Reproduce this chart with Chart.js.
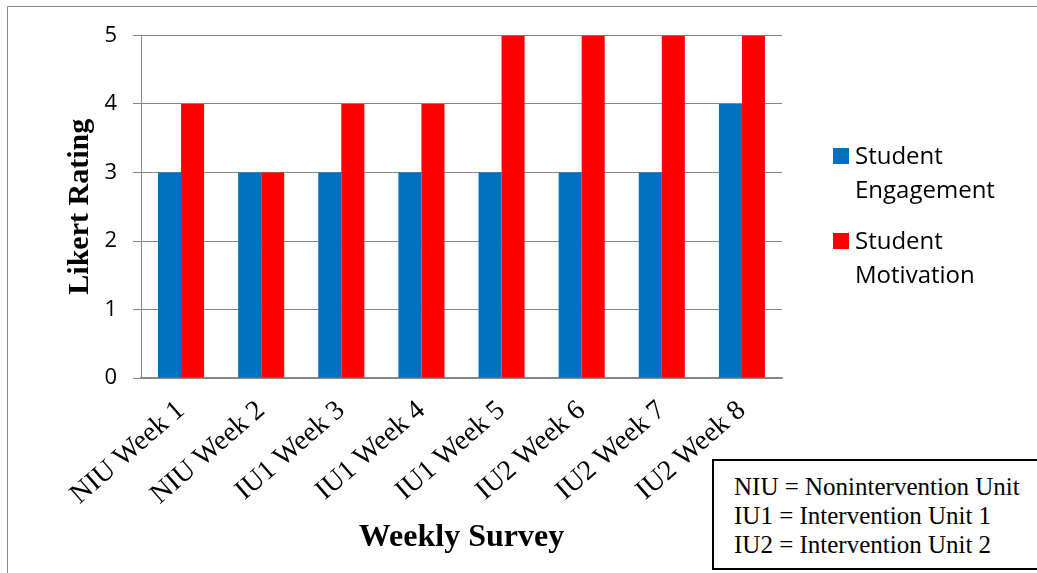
<!DOCTYPE html>
<html>
<head>
<meta charset="utf-8">
<script src="https://cdn.jsdelivr.net/npm/chart.js@4.4.1/dist/chart.umd.min.js"></script>
<style>
	body { margin: 0; background: #fff; }
	.wrap { position: relative; width: 1037px; height: 573px; overflow: hidden; }
	.frame { position: absolute; left: 7px; top: 6px; width: 1100px; height: 700px; border-left: 1px solid #8c8c8c; border-top: 1px solid #8c8c8c; }
	canvas { position: absolute; left: 0; top: 0; }
	.notes {
		position: absolute; left: 712px; top: 459px; width: 340px; height: 111px;
		border: 2px solid #000; background: #fff;
		font-family: 'Liberation Serif', 'Times New Roman', serif; font-size: 25px; line-height: 29px;
		padding: 11px 0 0 20px; box-sizing: border-box; color: #000;
	}
</style>
</head>
<body>
<div class="wrap">
	<div class="frame"></div>
	<canvas id="chart" width="1037" height="573"></canvas>
	<div class="notes" id="notes"></div>
</div>
<script>
'use strict';

const weeks = ['NIU Week 1', 'NIU Week 2', 'IU1 Week 3', 'IU1 Week 4', 'IU1 Week 5', 'IU2 Week 6', 'IU2 Week 7', 'IU2 Week 8'];
const engagement = [3, 3, 3, 3, 3, 3, 3, 4];
const motivation = [4, 3, 4, 4, 5, 5, 5, 5];
const yTicks = [0, 1, 2, 3, 4, 5];
const notes = ['NIU = Nonintervention Unit', 'IU1 = Intervention Unit 1', 'IU2 = Intervention Unit 2'];

const GRID = '#868686';
const SERIF = '"Liberation Serif", "Times New Roman", serif';

// legend drawn by hand so each label can wrap onto two lines like the original
const sideLegend = {
	id: 'sideLegend',
	afterDraw(chart) {
		const ctx = chart.ctx;
		ctx.save();
		ctx.font = '24px "Open Sans", sans-serif';
		ctx.textBaseline = 'alphabetic';
		chart.data.datasets.forEach((ds, i) => {
			const top = 148 + i * 85;
			ctx.fillStyle = ds.backgroundColor;
			ctx.fillRect(833, top, 16, 16);
			ctx.fillStyle = '#000';
			const words = ds.label.split(' ');
			ctx.fillText(words[0], 855, top + 16);
			ctx.fillText(words.slice(1).join(' '), 855, top + 50);
		});
		ctx.restore();
	},
};

new Chart(document.getElementById('chart'), {
	type: 'bar',
	data: {
		labels: weeks,
		datasets: [
			{ label: 'Student Engagement', data: engagement, backgroundColor: '#0070C0', borderWidth: 0 },
			{ label: 'Student Motivation', data: motivation, backgroundColor: '#FF0000', borderWidth: 0 },
		],
	},
	options: {
		responsive: false,
		animation: false,
		events: [],
		layout: { padding: { left: 8, top: 35.5, right: 255, bottom: 0 } },
		datasets: { bar: { categoryPercentage: 0.575, barPercentage: 1 } },
		plugins: { legend: { display: false }, tooltip: { enabled: false } },
		scales: {
			x: {
				grid: { display: false, drawTicks: false },
				border: { display: true, color: GRID, width: 1.5 },
				ticks: {
					autoSkip: false, minRotation: 41, maxRotation: 41, padding: 16,
					color: '#000', font: { family: SERIF, size: 28 },
				},
				title: {
					display: true, text: 'Weekly Survey', color: '#000',
					font: { family: SERIF, size: 32, weight: 'bold' },
					padding: { top: 0, bottom: 16 },
				},
				afterFit(scale) { scale.height = 195; },
			},
			y: {
				min: 0, max: 5,
				afterBuildTicks(scale) { scale.ticks = yTicks.map((v) => ({ value: v })); },
				grid: { color: GRID, lineWidth: 1, tickLength: 8 },
				border: { display: true, color: GRID, width: 1 },
				ticks: { padding: 16, color: '#000', font: { family: '"Open Sans", sans-serif', size: 22 } },
				title: {
					display: true, text: 'Likert Rating', color: '#000',
					font: { family: SERIF, size: 30, weight: 'bold' },
					padding: { top: 54, bottom: 0 },
				},
				afterFit(scale) { scale.width = 133; },
			},
		},
	},
	plugins: [sideLegend],
});

document.getElementById('notes').innerHTML = notes.map((n) => '<div>' + n + '</div>').join('');
</script>
</body>
</html>
